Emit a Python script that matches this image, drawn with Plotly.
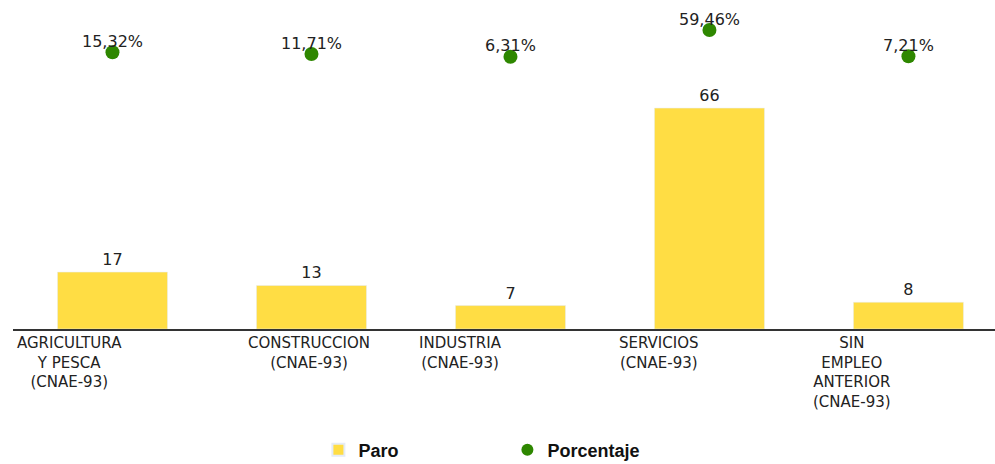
import plotly.graph_objects as go

categories = ["AGRICULTURA<br>Y PESCA<br>(CNAE-93)", "CONSTRUCCION<br>(CNAE-93)",
              "INDUSTRIA<br>(CNAE-93)", "SERVICIOS<br>(CNAE-93)",
              "SIN<br>EMPLEO<br>ANTERIOR<br>(CNAE-93)"]
paro = [17, 13, 7, 66, 8]
porcentaje = [15.32, 11.71, 6.31, 59.46, 7.21]

label_shift = [-43, -2, -50, -50, -56]

xs = list(range(len(categories)))
pct_text = [f"{v:.2f}".replace(".", ",") + "%" for v in porcentaje]

fig = go.Figure()
fig.add_trace(go.Bar(
    x=xs, y=paro, name="Paro", marker_color="#FFDD44",
    text=[str(v) for v in paro], textposition="outside",
    textfont=dict(family="DejaVu Sans", size=16, color="#222222"),
    cliponaxis=False,
))
fig.add_trace(go.Scatter(
    x=xs, y=porcentaje, name="Porcentaje", mode="markers", yaxis="y2",
    marker=dict(color="#2E8700", size=14),
    cliponaxis=False,
))

for i, t in enumerate(pct_text):
    fig.add_annotation(
        x=xs[i], y=porcentaje[i], xref="x", yref="y2", yanchor="middle", xanchor="center",
        text=t, showarrow=False, yshift=11,
        font=dict(family="DejaVu Sans", size=16, color="#222222"),
    )

for i, lab in enumerate(categories):
    fig.add_annotation(
        x=xs[i], y=0, xref="x", yref="paper", yanchor="top", xanchor="center",
        text=lab, showarrow=False, align="center", xshift=label_shift[i], yshift=-3,
        font=dict(family="DejaVu Sans", size=15, color="#222222"),
    )

fig.update_layout(
    width=995, height=464,
    margin=dict(l=13, r=0, t=0, b=135, autoexpand=False),
    paper_bgcolor="white", plot_bgcolor="white",
    bargap=0.447,
    showlegend=True,
    legend=dict(orientation="h", x=0.311, xanchor="left", y=-0.312, yanchor="top",
                font=dict(family="Liberation Sans", size=18, color="#111111", weight="bold"),
                entrywidth=144, itemsizing="constant"),
    xaxis=dict(range=[-0.5, 4.435], showticklabels=False, ticks="", showgrid=False,
               zeroline=False, showline=True, linecolor="#333333", linewidth=2),
    yaxis=dict(range=[0, 98.3], visible=False, showgrid=False, zeroline=False),
    yaxis2=dict(range=[-536, 119.3], overlaying="y", visible=False, showgrid=False,
                zeroline=False),
)

fig.write_html("out.html", config={"displayModeBar": False},
               post_script="document.body.style.margin='0';document.body.style.overflow='hidden';")
